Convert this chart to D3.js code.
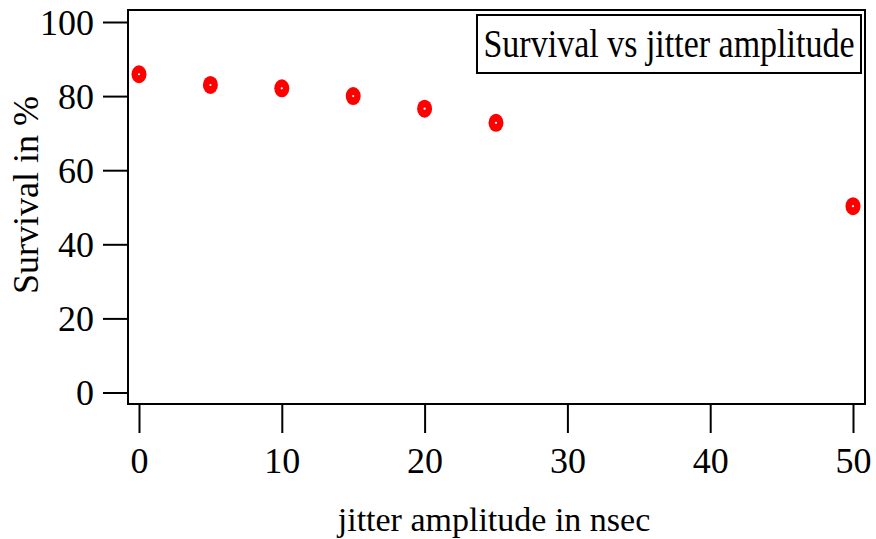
<!DOCTYPE html>
<html>
<head>
<meta charset="utf-8">
<script src="https://cdn.jsdelivr.net/npm/d3@7"></script>
<style>
  body { margin: 0; background: #fff; }
</style>
</head>
<body>
<svg id="chart"></svg>
<script>
const jitter = [0, 5, 10, 15, 20, 25, 50];
const survival = [85.9, 83.0, 82.1, 80.0, 76.6, 72.8, 50.3];
const xTicks = [0, 10, 20, 30, 40, 50];
const yTicks = [0, 20, 40, 60, 80, 100];
const legendLabel = "Survival vs jitter amplitude";
const xTitle = "jitter amplitude in nsec";
const yTitle = "Survival in %";

const width = 876;
const height = 539;
const frame = { left: 128, top: 10, right: 865, bottom: 404 };
const serif = "'Liberation Serif', 'Times New Roman', serif";

const svg = d3.select("#chart").attr("width", width).attr("height", height);

const x = d3.scaleLinear().domain([0, 50]).range([139, 853]);
const y = d3.scaleLinear().domain([0, 100]).range([392.5, 22]);

// frame
svg.append("rect")
    .attr("x", frame.left).attr("y", frame.top)
    .attr("width", frame.right - frame.left)
    .attr("height", frame.bottom - frame.top)
    .attr("fill", "none").attr("stroke", "#000").attr("stroke-width", 2);

// y axis
const yAxis = svg.append("g")
    .attr("transform", `translate(${frame.left},0)`)
    .call(d3.axisLeft(y).tickValues(yTicks).tickSize(25).tickSizeOuter(0).tickPadding(9));
yAxis.select(".domain").remove();
yAxis.selectAll("line").attr("stroke-width", 2);
yAxis.selectAll("text")
    .style("font-family", serif).style("font-size", "36px")
    .attr("dy", "0.34em");

// x axis
const xAxis = svg.append("g")
    .attr("transform", `translate(0,${frame.bottom})`)
    .call(d3.axisBottom(x).tickValues(xTicks).tickSize(29).tickSizeOuter(0).tickPadding(14));
xAxis.select(".domain").remove();
xAxis.selectAll("line").attr("stroke-width", 2);
xAxis.selectAll("text")
    .style("font-family", serif).style("font-size", "36px");

// markers
const pts = svg.append("g")
    .selectAll("g")
    .data(jitter.map((j, i) => ({ j, s: survival[i] })))
    .join("g")
    .attr("transform", d => `translate(${x(d.j)},${y(d.s)})`);
pts.append("ellipse").attr("rx", 7.5).attr("ry", 9).attr("fill", "#ff0000");
pts.append("circle").attr("r", 1.1).attr("fill", "#fff");

// axis titles
svg.append("text")
    .attr("x", 494)
    .attr("y", 531)
    .attr("text-anchor", "middle")
    .style("font-family", serif)
    .style("font-size", "34px")
    .text(xTitle);

svg.append("text")
    .attr("transform", "translate(38,195) rotate(-90)")
    .attr("text-anchor", "middle")
    .style("font-family", serif)
    .style("font-size", "36px")
    .text(yTitle);

// legend box
svg.append("rect")
    .attr("x", 477).attr("y", 15)
    .attr("width", 384).attr("height", 58)
    .attr("fill", "#fff").attr("stroke", "#000").attr("stroke-width", 2);
svg.append("text")
    .attr("transform", "translate(669,56.5) scale(1,1.17)")
    .attr("text-anchor", "middle")
    .style("font-family", serif)
    .style("font-size", "34px")
    .text(legendLabel);
</script>
</body>
</html>
